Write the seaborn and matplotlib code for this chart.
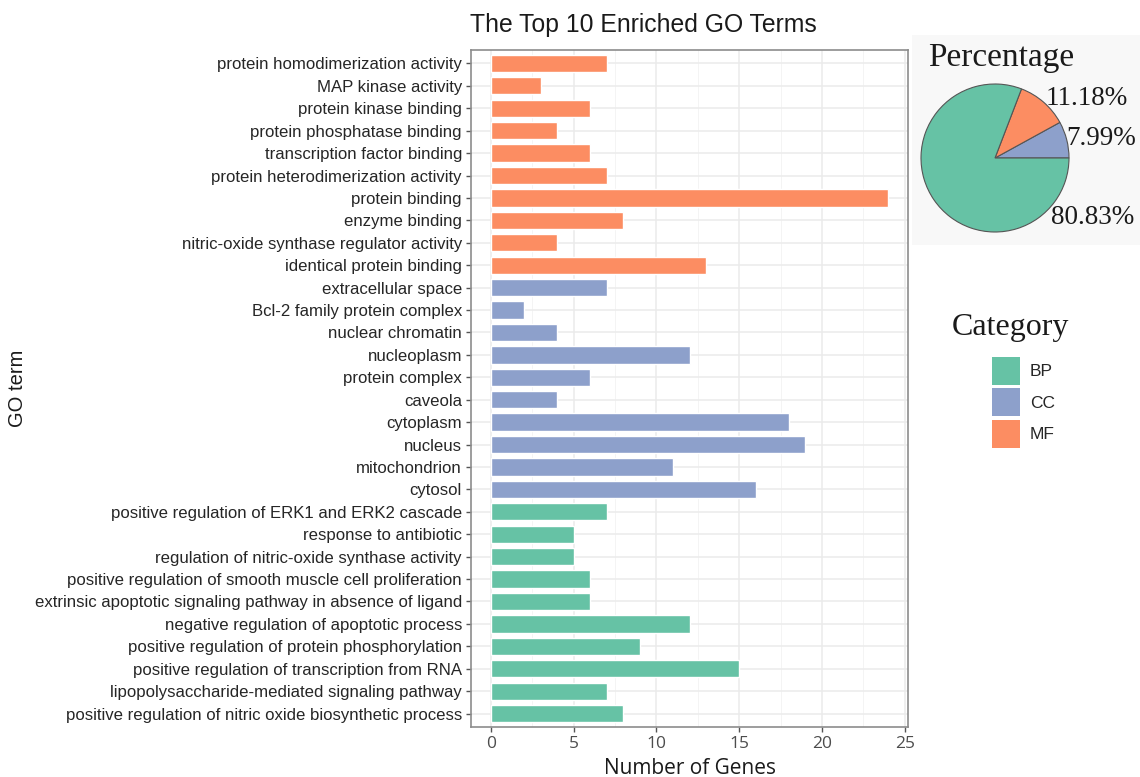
import matplotlib
matplotlib.use("Agg")
import matplotlib.pyplot as plt
from matplotlib.patches import Patch, Rectangle
from matplotlib.ticker import MultipleLocator
import seaborn as sns
import pandas as pd

# GO terms listed top to bottom, grouped by ontology
mf_terms = ["protein homodimerization activity", "MAP kinase activity",
            "protein kinase binding", "protein phosphatase binding",
            "transcription factor binding", "protein heterodimerization activity",
            "protein binding", "enzyme binding",
            "nitric-oxide synthase regulator activity", "identical protein binding"]
mf_counts = [7, 3, 6, 4, 6, 7, 24, 8, 4, 13]

cc_terms = ["extracellular space", "Bcl-2 family protein complex", "nuclear chromatin",
            "nucleoplasm", "protein complex", "caveola", "cytoplasm", "nucleus",
            "mitochondrion", "cytosol"]
cc_counts = [7, 2, 4, 12, 6, 4, 18, 19, 11, 16]

bp_terms = ["positive regulation of ERK1 and ERK2 cascade", "response to antibiotic",
            "regulation of nitric-oxide synthase activity",
            "positive regulation of smooth muscle cell proliferation",
            "extrinsic apoptotic signaling pathway in absence of ligand",
            "negative regulation of apoptotic process",
            "positive regulation of protein phosphorylation",
            "positive regulation of transcription from RNA",
            "lipopolysaccharide-mediated signaling pathway",
            "positive regulation of nitric oxide biosynthetic process"]
bp_counts = [7, 5, 5, 6, 6, 12, 9, 15, 7, 8]

categories = ["BP", "CC", "MF"]
pie_order = ["CC", "MF", "BP"]
pie_percent = [7.99, 11.18, 80.83]
x_ticks = [0, 5, 10, 15, 20, 25]

palette = {"BP": "#66C2A5", "CC": "#8DA0CB", "MF": "#FC8D62"}

df = pd.DataFrame({
    "term": mf_terms + cc_terms + bp_terms,
    "count": mf_counts + cc_counts + bp_counts,
    "Category": ["MF"] * len(mf_terms) + ["CC"] * len(cc_terms) + ["BP"] * len(bp_terms),
})

sns.set_theme(style="white")
plt.rcParams["font.family"] = ["Liberation Sans", "DejaVu Sans"]

W, H = 1140, 777
fig = plt.figure(figsize=(W / 100, H / 100), dpi=100)


def px_axes(left, top, right, bottom, **kw):
    return fig.add_axes([left / W, 1 - bottom / H, (right - left) / W, (bottom - top) / H], **kw)


ax = px_axes(471, 50, 908, 727)
sns.barplot(data=df, y="term", x="count", hue="Category", hue_order=categories,
            palette=palette, dodge=False, width=0.77, saturation=1,
            order=df["term"], legend=False, ax=ax)

ax.set_xlim(-1.2, 25.2)
ax.set_ylim(len(df) - 0.4, -0.6)
ax.set_xticks(x_ticks)
ax.xaxis.set_minor_locator(MultipleLocator(2.5))
ax.set_axisbelow(True)
ax.grid(which="major", axis="both", color="#EBEBEB", linewidth=1.1)
ax.grid(which="minor", axis="x", color="#F2F2F2", linewidth=0.6)
for s in ax.spines.values():
    s.set_color("#8C8C8C")
    s.set_linewidth(1.2)
ax.tick_params(axis="both", which="major", direction="out", length=3.5, width=1,
               color="#555555", bottom=True, left=True)
ax.tick_params(axis="x", which="minor", length=0)
ax.tick_params(axis="y", labelsize=12.1, labelcolor="#262626", pad=3)
ax.tick_params(axis="x", labelsize=12.5, labelcolor="#4D4D4D", pad=3)
for lbl in ax.get_xticklabels():
    lbl.set_family(["Open Sans", "DejaVu Sans"])

ax.set_xlabel("Number of Genes", fontsize=15, family=["Open Sans", "DejaVu Sans"],
              color="#1A1A1A", labelpad=4)
ax.set_ylabel("GO term", fontsize=14.5, color="#1A1A1A")
ax.yaxis.set_label_coords(-(471 - 27) / 437, 0.5)

fig.text(470 / W, 1 - 25 / H, "The Top 10 Enriched GO Terms", fontsize=17.8,
         ha="left", va="center", color="#1A1A1A")

# pie of category share, on a faint panel
bg = Rectangle((912 / W, 1 - 245 / H), (W - 912) / W, 210 / H,
               transform=fig.transFigure, facecolor="#F8F8F8", edgecolor="none", zorder=-5)
fig.patches.append(bg)

pax = px_axes(921, 84, 1069, 232, zorder=2)
pax.pie(pie_percent, colors=[palette[c] for c in pie_order], startangle=0,
        counterclock=True, radius=1,
        wedgeprops=dict(edgecolor="#555555", linewidth=0.8))
pax.set_xlim(-1, 1)
pax.set_ylim(-1, 1)
pax.set_aspect("equal")
pax.axis("off")

serif = ["Liberation Serif", "DejaVu Serif"]
label_pos = {"MF": (0.69, 0.81), "CC": (0.96, 0.27), "BP": (0.76, -0.81)}
for cat, pct in zip(pie_order, pie_percent):
    x, y = label_pos[cat]
    pax.text(x, y, f"{pct:.2f}%", ha="left", va="center", fontsize=19.5,
             family=serif, color="#1A1A1A", clip_on=False)
fig.text(1001 / W, 1 - 58 / H, "Percentage", fontsize=24, family=serif,
         ha="center", va="center", color="#1A1A1A")

# category legend: title as its own text, colour keys below it
fig.text(1010 / W, 1 - 328 / H, "Category", fontsize=23, family=serif,
         ha="center", va="center", color="#1A1A1A")
handles = [Patch(facecolor=palette[c], edgecolor="none", label=c) for c in categories]
leg = fig.legend(handles=handles, loc="upper left",
                 bbox_to_anchor=(992 / W, 1 - 357 / H), frameon=False,
                 fontsize=12.5, handlelength=1.61, handleheight=2.1,
                 labelspacing=0.2, handletextpad=0.58, borderpad=0, borderaxespad=0)
for t in leg.get_texts():
    t.set_color("#262626")

fig.savefig("out.png", dpi=100)
